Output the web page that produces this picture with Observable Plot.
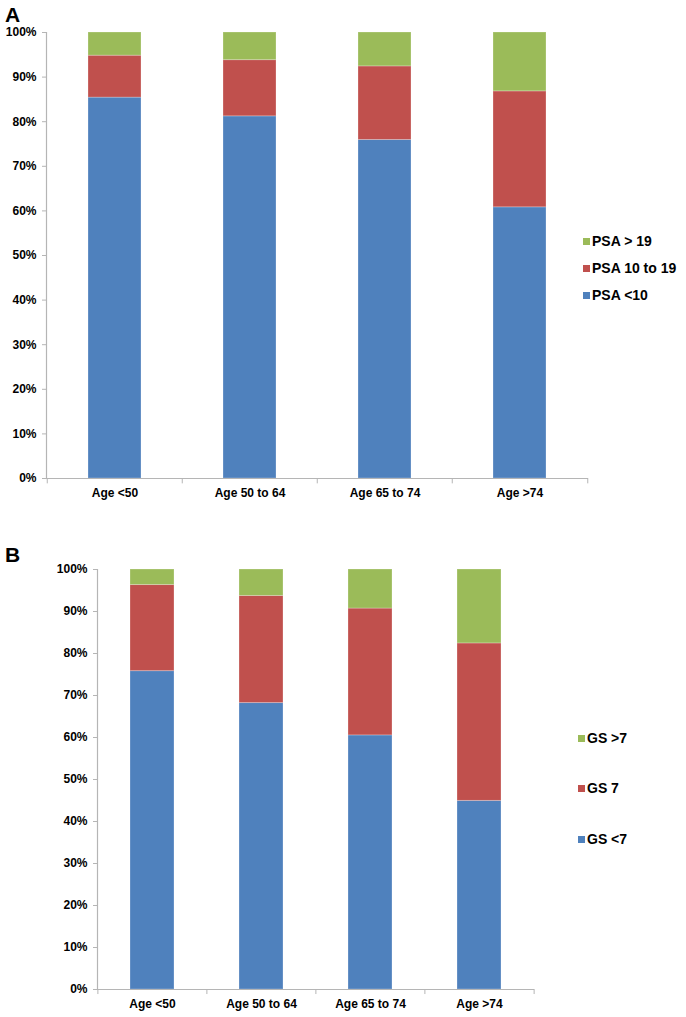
<!DOCTYPE html>
<html><head><meta charset="utf-8">
<script src="https://cdn.jsdelivr.net/npm/d3@7"></script>
<script src="https://cdn.jsdelivr.net/npm/@observablehq/plot@0.6"></script>
<style>
body{margin:0;background:#fff;width:686px;height:1017px;position:relative;overflow:hidden;font-family:"Liberation Sans",Arial,sans-serif;}
.panel{position:absolute;left:0;z-index:1;}
.letter{position:absolute;font-weight:bold;font-size:21px;line-height:21px;color:#000;z-index:5;}
.item{position:absolute;white-space:nowrap;display:flex;align-items:center;font-weight:bold;font-size:14px;line-height:16px;color:#000;z-index:5;}
.sw{width:7px;height:7px;display:inline-block;margin-right:2px;}
</style></head><body>
<div class="letter" style="left:5px;top:4px;">A</div>
<div class="letter" style="left:5px;top:544px;">B</div>
<div id="a" class="panel" style="top:0px;"></div>
<div id="b" class="panel" style="top:540px;"></div>
<div id="legA"></div>
<div id="legB"></div>
<script>
const categories = ["Age <50", "Age 50 to 64", "Age 65 to 74", "Age >74"];
const yTicks = [0, 10, 20, 30, 40, 50, 60, 70, 80, 90, 100];

// Panel A: PSA
const psaSeries = ["PSA <10", "PSA 10 to 19", "PSA > 19"];
const psaLt10 = [85.4, 81.2, 75.9, 60.8];
const psa10to19 = [9.4, 12.6, 16.5, 26.0];
const psaGt19 = [5.2, 6.2, 7.6, 13.2];

// Panel B: Gleason score
const gsSeries = ["GS <7", "GS 7", "GS >7"];
const gsLt7 = [75.8, 68.2, 60.5, 44.9];
const gs7 = [20.5, 25.5, 30.2, 37.5];
const gsGt7 = [3.7, 6.3, 9.3, 17.6];

const colors = ["#4F81BD", "#C0504D", "#9BBB59"];
const gray = "#b5b5b5";

function rowsOf(series, arrays) {
  const rows = [];
  categories.forEach((c, i) => series.forEach((s, j) => rows.push({cat: c, series: s, value: arrays[j][i]})));
  return rows;
}

function panel({series, arrays, ml, mr, mt, mb, h, pad}) {
  const step = (686 - ml - mr) / categories.length;
  const rows = rowsOf(series, arrays);
  return Plot.plot({
    width: 686, height: h,
    marginLeft: ml, marginRight: mr, marginTop: mt, marginBottom: mb,
    x: {domain: categories, paddingInner: pad, paddingOuter: pad / 2, label: null},
    y: {domain: [0, 100], label: null},
    color: {domain: series, range: colors},
    style: {fontFamily: "'Liberation Sans', Arial, sans-serif", fontSize: "12px", fontWeight: "bold", color: "#000", background: "transparent"},
    marks: [
      Plot.barY(rows, {x: "cat", y: "value", fill: "series", order: series, stroke: "#ffffff", strokeOpacity: 0.25, strokeWidth: 1}),
      Plot.ruleY([0], {stroke: gray, strokeWidth: 1.2}),
      Plot.frame({anchor: "left", stroke: gray, strokeWidth: 1.2}),
      Plot.axisY({ticks: yTicks, tickFormat: d => d + "%", tickSize: 4, tickPadding: 6, stroke: gray, fill: "#000", fontWeight: "bold", label: null}),
      Plot.axisX({tickSize: 0, tickPadding: 10, fill: "#000", fontWeight: "bold", label: null}),
      Plot.ruleX(categories, {x: d => d, dx: -step / 2, y1: 0, y2: -1.2, stroke: gray}),
      Plot.ruleX(categories.slice(-1), {x: d => d, dx: step / 2, y1: 0, y2: -1.2, stroke: gray})
    ]
  });
}

document.getElementById("a").append(panel({
  series: psaSeries, arrays: [psaLt10, psa10to19, psaGt19],
  ml: 46, mr: 98, mt: 32, mb: 32, h: 510, pad: 0.61
}));
document.getElementById("b").append(panel({
  series: gsSeries, arrays: [gsLt7, gs7, gsGt7],
  ml: 97, mr: 152, mt: 29, mb: 28, h: 477, pad: 0.6
}));

function legend(id, series, x, ys) {
  const el = document.getElementById(id);
  const order = series.map((s, i) => ({s, c: colors[i]})).reverse();
  order.forEach((o, k) => {
    const d = document.createElement("div");
    d.className = "item";
    d.style.left = x + "px";
    d.style.top = (ys[k] - 8) + "px";
    const sw = document.createElement("span");
    sw.className = "sw"; sw.style.background = o.c;
    d.append(sw, document.createTextNode(o.s));
    el.append(d);
  });
}
legend("legA", psaSeries, 583, [241, 268, 295]);
legend("legB", gsSeries, 578, [738, 788, 839]);
</script>
</body></html>
